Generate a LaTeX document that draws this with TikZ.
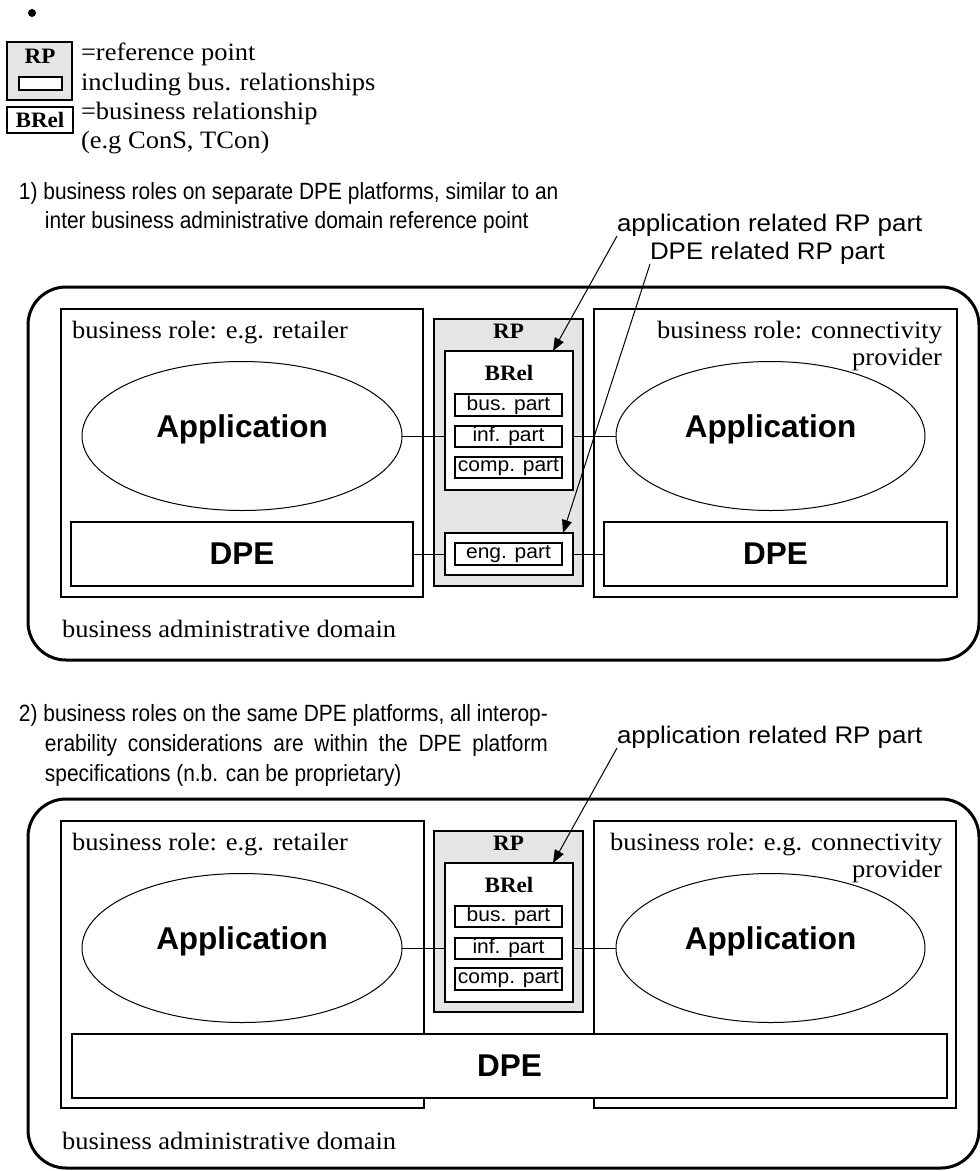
\documentclass[tikz,border=0pt]{standalone}
\usepackage{fontspec}
\setmainfont{Liberation Serif}
\newfontfamily\serifS[FakeStretch=1.06]{Liberation Serif}
\newfontfamily\serifT[FakeStretch=1.05]{Liberation Serif}
\newfontfamily\sansS[FakeStretch=1.05]{Liberation Sans}
\newfontfamily\sansL[FakeStretch=1.08]{Liberation Sans}
\newfontfamily\sansH[FakeStretch=0.89]{Liberation Sans}
\newfontfamily\sansN{Liberation Sans}
\usetikzlibrary{shapes.geometric,arrows.meta,calc}
\definecolor{rpgray}{gray}{0.9}
\newcommand\fRm{\serifS\fontsize{25}{30}\selectfont}
\newcommand\fRmB{\serifT\bfseries\fontsize{22}{26}\selectfont}
\newcommand\fPart{\sansS\fontsize{20}{24}\selectfont}
\newcommand\fLab{\sansL\fontsize{24}{28}\selectfont}
\newcommand\fHead{\sansH\fontsize{23.5}{28}\selectfont}
\newcommand\fBig{\sansN\bfseries\fontsize{31.5}{36}\selectfont}
\begin{document}
\begin{tikzpicture}[x=1pt,y=-1pt,
  every node/.style={inner sep=0pt, outer sep=0pt},
  dom/.style={draw, line width=3pt, rounded corners=38pt},
  rolebox/.style={draw, line width=1.3pt},
  rpbox/.style={draw, line width=1.3pt, fill=rpgray},
  inbox/.style={draw, line width=1.3pt, fill=white},
  partbox/.style={draw, line width=1.1pt, fill=white, font=\fPart, minimum width=107pt},
  appell/.style={draw, ellipse, line width=1pt, minimum height=149pt},
  dpebox/.style={draw, line width=1.1pt, fill=white, font=\fBig, minimum height=64pt},
  wire/.style={line width=1pt},
  pointer/.style={line width=1pt, -{Triangle[length=13pt,width=10pt]}},
  rmtext/.style={font=\fRm, anchor=base west},
  rmtextr/.style={font=\fRm, anchor=base east},
  boldlab/.style={font=\fRmB, anchor=base},
  biglab/.style={font=\fBig, anchor=base},
  arrlab/.style={font=\fLab, anchor=base west},
  headtext/.style={font=\fHead, anchor=base west}
]
\useasboundingbox (0,0) rectangle (980,1171);

% ---------- legend ----------
\fill (32,13) circle (4pt);
\node[rpbox, minimum width=65pt, minimum height=58pt] (lgRP) at (39.5,71) {};
\node[boldlab] (lgRPt) at (40,63) {RP};
\node[draw, line width=1.1pt, fill=white, minimum width=43pt, minimum height=13pt] (lgIn) at (40.5,83.5) {};
\node[draw, line width=1.5pt, minimum width=66pt, minimum height=26pt, font=\fRmB] (lgBR) at (40,120) {BRel};
\node[rmtext] (lg1) at (81,60) {=reference point};
\node[rmtext] (lg2) at (81,90) {including bus. relationships};
\node[rmtext] (lg3) at (81,119) {=business relationship};
\node[rmtext] (lg4) at (81,148) {(e.g ConS, TCon)};

% ---------- section 1 ----------
\node[headtext] (h1a) at (19,199) {1) business roles on separate DPE platforms, similar to an};
\node[headtext] (h1b) at (45,228) {inter business administrative domain reference point};
\node[arrlab] (lab1a) at (617,231) {application related RP part};
\node[arrlab] (lab1b) at (650,259) {DPE related RP part};

\node[dom, minimum width=951pt, minimum height=373pt] (dom1) at (503.5,473.5) {};
\node[rolebox, minimum width=362pt, minimum height=288pt] (roleL1) at (242,453) {};
\node[rolebox, minimum width=363pt, minimum height=288pt] (roleR1) at (775.5,453) {};
\node[rmtext] (rtL1) at (72,338) {business role: e.g. retailer};
\node[rmtextr] (rtR1a) at (942,338) {business role: connectivity};
\node[rmtextr] (rtR1b) at (942,365) {provider};
\node[rmtext] (bad1) at (62,637) {business administrative domain};

\node[appell, minimum width=320pt] (appL1) at (242,436) {};
\node[biglab] (appL1t) at (242,437) {Application};
\node[appell, minimum width=309pt] (appR1) at (770.5,436) {};
\node[biglab] (appR1t) at (770.5,437) {Application};
\node[dpebox, minimum width=342pt] (dpeL1) at (242,554) {DPE};
\node[dpebox, minimum width=343pt] (dpeR1) at (775.5,554) {DPE};

\node[rpbox, minimum width=149pt, minimum height=267pt] (rp1) at (508.5,452.5) {};
\node[boldlab] (rp1t) at (508.5,338) {RP};
\node[inbox, minimum width=128pt, minimum height=139pt] (brel1) at (509,420.5) {};
\node[boldlab] (brel1t) at (509,380) {BRel};
\node[partbox, minimum height=22pt] (bus1) at (508.5,405) {bus. part};
\node[partbox, minimum height=21pt] (inf1) at (508.5,436.5) {inf. part};
\node[partbox, minimum height=21pt] (comp1) at (508.5,467.5) {comp. part};
\node[inbox, minimum width=128pt, minimum height=42pt] (engo1) at (509,554) {};
\node[partbox, minimum height=22pt] (eng1) at (508.5,554) {eng. part};

\draw[wire] (appL1.east) -- (appL1.east -| brel1.west);
\draw[wire] (brel1.east |- appR1.west) -- (appR1.west);
\draw[wire] (dpeL1.east) -- (engo1.west);
\draw[wire] (engo1.east) -- (dpeR1.west);

\coordinate (t1) at ($(brel1.north west)+(108,0)$);
\coordinate (t2) at ($(engo1.north west)+(118,0)$);
\draw[pointer] (lab1a.south west) -- (t1);
\draw[pointer] (lab1b.south west) -- (t2);

% ---------- section 2 ----------
\node[headtext] (h2a) at (19,721) {2) business roles on the same DPE platforms, all interop-};
\node[headtext] (h2b) at (45,751) {\makebox[503pt][s]{erability considerations are within the DPE platform}};
\node[headtext] (h2c) at (45,781) {specifications (n.b. can be proprietary)};
\node[arrlab] (lab2) at (617,743) {application related RP part};

\node[dom, minimum width=951pt, minimum height=369pt] (dom2) at (503.5,983.5) {};
\node[rolebox, minimum width=363pt, minimum height=287pt] (roleL2) at (242.5,964.5) {};
\node[rolebox, minimum width=362pt, minimum height=287pt] (roleR2) at (775,964.5) {};
\node[rmtext] (rtL2) at (72,850) {business role: e.g. retailer};
\node[rmtextr] (rtR2a) at (942,850) {business role: e.g. connectivity};
\node[rmtextr] (rtR2b) at (942,877) {provider};
\node[rmtext] (bad2) at (62,1149) {business administrative domain};

\node[appell, minimum width=320pt] (appL2) at (242,948) {};
\node[biglab] (appL2t) at (242,949) {Application};
\node[appell, minimum width=309pt] (appR2) at (770.5,948) {};
\node[biglab] (appR2t) at (770.5,949) {Application};

\node[rpbox, minimum width=149pt, minimum height=181pt] (rp2) at (508.5,921.5) {};
\node[boldlab] (rp2t) at (508.5,850) {RP};
\node[inbox, minimum width=128pt, minimum height=139pt] (brel2) at (509,932.5) {};
\node[boldlab] (brel2t) at (509,892) {BRel};
\node[partbox, minimum height=21pt] (bus2) at (508.5,916.5) {bus. part};
\node[partbox, minimum height=21pt] (inf2) at (508.5,948.5) {inf. part};
\node[partbox, minimum height=22pt] (comp2) at (508.5,979) {comp. part};

\node[dpebox, minimum width=875pt] (dpe2) at (509.5,1066) {DPE};

\draw[wire] (appL2.east) -- (appL2.east -| brel2.west);
\draw[wire] (brel2.east |- appR2.west) -- (appR2.west);

\coordinate (t3) at ($(brel2.north west)+(108,0)$);
\draw[pointer] (lab2.south west) -- (t3);
\end{tikzpicture}
\end{document}
